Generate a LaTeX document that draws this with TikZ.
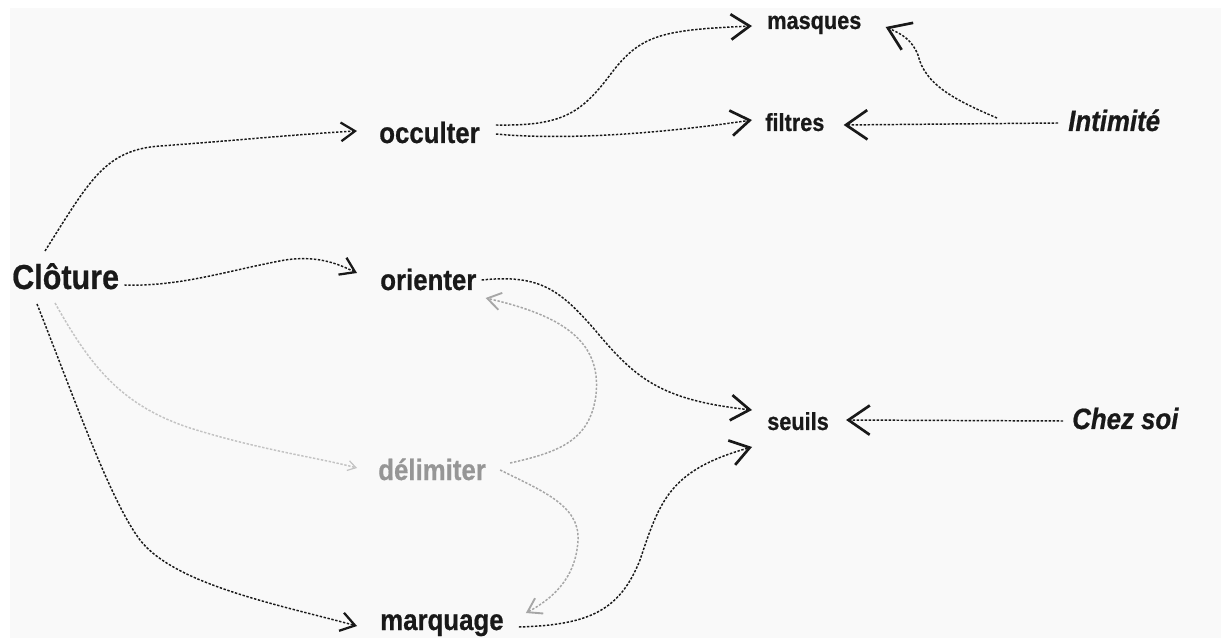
\documentclass[tikz,border=0pt]{standalone}
\usepackage{fontspec}
\setmainfont{Liberation Sans}[FakeStretch=0.88, FakeBold=0.6]
\usetikzlibrary{arrows.meta}
\definecolor{paper}{RGB}{249,249,249}
\definecolor{ink}{RGB}{25,25,25}
\definecolor{pale}{RGB}{150,150,150}
\definecolor{faint}{RGB}{195,195,195}
\tikzset{
  word/.style={anchor=base west, inner sep=0pt, text=ink, font=\bfseries\fontsize{22}{26}\selectfont},
  small word/.style={word, font=\bfseries\fontsize{18.5}{22}\selectfont},
  theme/.style={word, font=\bfseries\itshape\fontsize{22}{26}\selectfont},
  link/.style={draw=ink, line width=1.1pt, dash pattern=on 1.8pt off 1.2pt},
  barbS/.tip={Straight Barb[length=10.5pt, width=14pt, line width=1.7pt]},
  barbM/.tip={Straight Barb[length=14pt, width=19pt, line width=2pt]},
  barbL/.tip={Straight Barb[length=16pt, width=22pt, line width=2pt]},
  barbG/.tip={Straight Barb[length=10pt, width=13pt, line width=1.4pt]},
  barbT/.tip={Straight Barb[length=6pt, width=7.5pt, line width=0.9pt]}
}
\begin{document}
\begin{tikzpicture}[x=0.75pt,y=-0.75pt]
\fill[white] (0,0) rectangle (1221,641);
\fill[paper] (10,8) rectangle (1221,638);
\node[word, font=\bfseries\fontsize{26}{30}\selectfont] (cloture) at (12,289) {Clôture};
\node[word] (occulter) at (379,143) {occulter};
\node[word] (orienter) at (380,290) {orienter};
\node[word, text=pale] (delimiter) at (378,480) {délimiter};
\node[word] (marquage) at (380,630) {marquage};
\node[small word] (masques) at (767,29) {masques};
\node[small word] (filtres) at (765,131) {filtres};
\node[small word] (seuils) at (767,430) {seuils};
\node[theme] (intimite) at (1068,131) {Intimité};
\node[theme] (chezsoi) at (1072,429) {Chez soi};
\coordinate (fork) at ([shift={(-71,-13)}]intimite.base west);

\draw[link, -{barbS}] ([shift={(33,-38)}]cloture.base west) .. controls (90,180) and (105,150) .. (160,146)
  .. controls (230,141) and (300,134) .. ([shift={(-22,-12)}]occulter.base west);
\draw[link, -{barbS}] ([shift={(5,-4)}]cloture.base east) .. controls (180,287) and (230,270) .. (285,260)
  .. controls (320,255) and (340,265) .. ([shift={(-23,-17)}]orienter.base west);
\draw[link, draw=faint, -{barbT}] ([shift={(43,14)}]cloture.base west) .. controls (90,365) and (120,405) .. (190,428)
  .. controls (260,450) and (320,458) .. ([shift={(-21,-12)}]delimiter.base west);
\draw[link, -{barbS}] ([shift={(25,15)}]cloture.base west) .. controls (75,400) and (110,500) .. (140,540)
  .. controls (175,585) and (280,605) .. ([shift={(-23,-4)}]marquage.base west);

\draw[link, -{barbM}] ([shift={(16,-18)}]occulter.base east) .. controls (560,126) and (580,115) .. (610,75)
  .. controls (640,35) and (660,30) .. ([shift={(-15,-3)}]masques.base west);
\draw[link, -{barbM}] ([shift={(16,-9)}]occulter.base east) .. controls (560,140) and (650,135) .. ([shift={(-13,-11)}]filtres.base west);

\draw[link, -{barbL}] ([shift={(-10,-8)}]intimite.base west) -- ([shift={(19,-6)}]filtres.base east);
\draw[link, -{barbL}] (fork) .. controls (955,100) and (925,85) .. (918,55)
  .. controls (912,40) and (902,34) .. ([shift={(24,-2)}]masques.base east);

\draw[link, -{barbM}] ([shift={(5,-10)}]orienter.base east) .. controls (540,274) and (560,290) .. (595,330)
  .. controls (635,378) and (660,400) .. ([shift={(-15,-20)}]seuils.base west);
\draw[link, -{barbM}] ([shift={(15,-3)}]marquage.base east) .. controls (590,625) and (620,610) .. (640,560)
  .. controls (660,500) and (670,470) .. ([shift={(-15,17)}]seuils.base west);

\draw[link, draw=pale!85, -{barbG}] ([shift={(24,-17)}]delimiter.base east) .. controls (560,452) and (590,440) .. (596,395)
  .. controls (602,340) and (560,315) .. ([shift={(9,8)}]orienter.base east);
\draw[link, draw=pale!85, -{barbG}] ([shift={(14,-10)}]delimiter.base east) .. controls (540,490) and (580,505) .. (578,540)
  .. controls (576,580) and (550,600) .. ([shift={(22,-17)}]marquage.base east);

\draw[link, -{barbL}] ([shift={(-9,-8)}]chezsoi.base west) -- ([shift={(17,-10)}]seuils.base east);
\end{tikzpicture}
\end{document}
